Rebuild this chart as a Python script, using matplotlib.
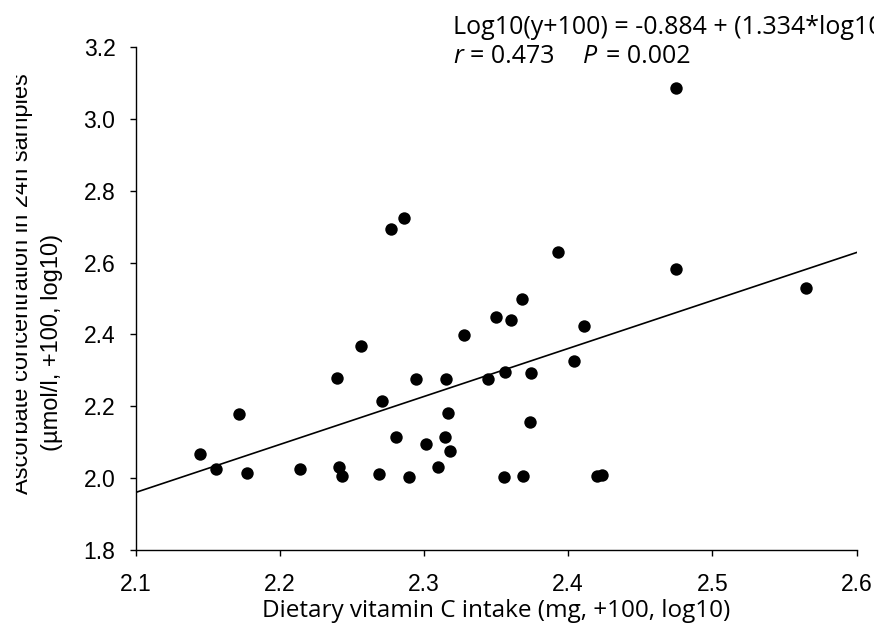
import numpy as np
import matplotlib
matplotlib.use("Agg")
import matplotlib.pyplot as plt
from matplotlib.transforms import Bbox

# dietary intake vs urinary ascorbate, both log10(value + 100)
intake = [2.145, 2.156, 2.1715, 2.1775, 2.2138, 2.2397, 2.2408, 2.2429, 2.2563, 2.2686,
          2.2707, 2.2773, 2.2808, 2.2864, 2.2896, 2.2944, 2.3012, 2.3095, 2.315, 2.3146,
          2.3164, 2.3183, 2.328, 2.3444, 2.3501, 2.3564, 2.3555, 2.3606, 2.3682, 2.3689,
          2.3735, 2.374, 2.3931, 2.4042, 2.4107, 2.4203, 2.4234, 2.4748, 2.4748, 2.5647]
ascorbate = [2.068, 2.025, 2.179, 2.014, 2.027, 2.279, 2.033, 2.007, 2.367, 2.012,
             2.216, 2.694, 2.114, 2.724, 2.004, 2.275, 2.096, 2.031, 2.275, 2.116,
             2.181, 2.075, 2.398, 2.275, 2.449, 2.297, 2.004, 2.440, 2.498, 2.006,
             2.157, 2.293, 2.628, 2.325, 2.423, 2.006, 2.008, 3.085, 2.582, 2.529]

x_ticks = [2.1, 2.2, 2.3, 2.4, 2.5, 2.6]
y_ticks = [1.8, 2.0, 2.2, 2.4, 2.6, 2.8, 3.0, 3.2]

plt.rcParams['font.family'] = ['Liberation Sans', 'DejaVu Sans']
body_font = ['Open Sans', 'DejaVu Sans']

W, H = 874, 626
fig = plt.figure(figsize=(W / 100, H / 100), dpi=100)
ax = fig.add_axes([0.1551, 0.1209, 0.8250, 0.8045])

ax.scatter(intake, ascorbate, s=80, color='black', zorder=3, linewidths=0)

# least-squares trend line across the whole x range
slope, icpt = np.polyfit(intake, ascorbate, 1)
xs = np.array([x_ticks[0], x_ticks[-1]])
ax.plot(xs, icpt + slope * xs, color='black', lw=1.2, zorder=2)

ax.set_xlim(2.1, 2.6)
ax.set_ylim(1.8, 3.2)
ax.set_xticks(x_ticks)
ax.set_yticks(y_ticks)
ax.set_xticklabels([f'{v:.1f}' for v in x_ticks])
ax.set_yticklabels([f'{v:.1f}' for v in y_ticks])
ax.tick_params(axis='both', direction='out', length=4.5, width=1, labelsize=16.5, color='black')
ax.tick_params(axis='y', pad=10)
ax.tick_params(axis='x', pad=12)
for side in ['top', 'right']:
    ax.spines[side].set_visible(False)
for side in ['left', 'bottom']:
    ax.spines[side].set_linewidth(1)

fig.text(496 / W, 1 - 617 / H, 'Dietary vitamin C intake (mg, +100, log10)',
         ha='center', va='baseline', fontsize=17.5, family=body_font)

# two-line y title; the outer line is trimmed at the left edge
t1 = fig.text(28 / W, 1 - 284 / H, 'Ascorbate concentration in 24h samples', rotation=90,
              rotation_mode='anchor', ha='center', va='baseline', fontsize=17)
t1.set_clip_box(Bbox.from_extents(16, 0, W, H))
t1.set_clip_on(True)
fig.text(58 / W, 1 - 342 / H, '(µmol/l, +100, log10)', rotation=90,
         rotation_mode='anchor', ha='center', va='baseline', fontsize=17)

fs = 18
fig.text(453 / W, 1 - 34 / H, 'Log10(y+100) = -0.884 + (1.334*log10(x+100))',
         ha='left', va='baseline', fontsize=fs, family=body_font)
fig.text(453 / W, 1 - 63 / H, 'r', style='italic', ha='left', va='baseline',
         fontsize=fs, family=body_font)
fig.text(470 / W, 1 - 63 / H, '= 0.473', ha='left', va='baseline',
         fontsize=fs, family=body_font)
fig.text(583 / W, 1 - 63 / H, 'P', style='italic', ha='left', va='baseline',
         fontsize=fs, family=body_font)
fig.text(606 / W, 1 - 63 / H, '= 0.002', ha='left', va='baseline',
         fontsize=fs, family=body_font)

fig.savefig('out.png', dpi=100)
